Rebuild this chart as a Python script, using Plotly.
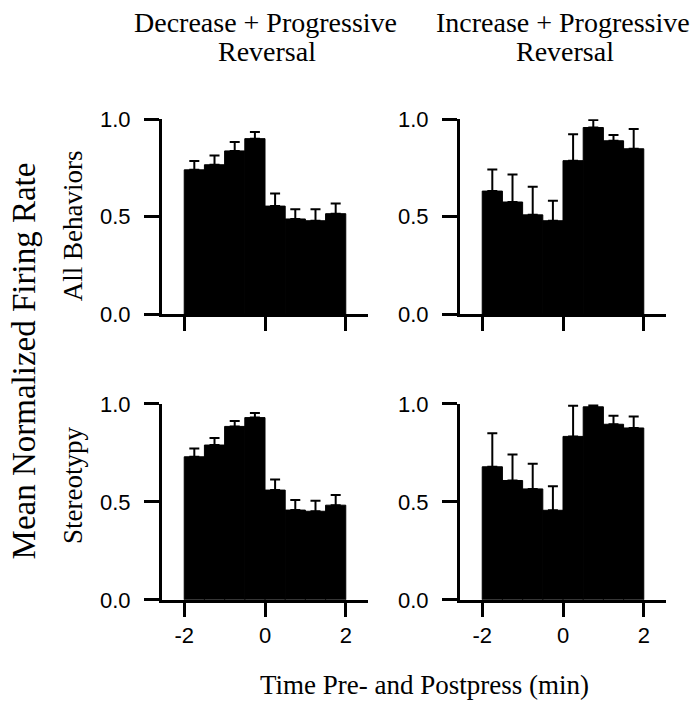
import plotly.graph_objects as go

# ---------------- data ----------------
time_bins = [-1.75, -1.25, -0.75, -0.25, 0.25, 0.75, 1.25, 1.75]
x_tick_vals = [-2, 0, 2]
x_tick_text = ["-2", "0", "2"]
y_tick_vals = [0.0, 0.5, 1.0]
y_tick_text = ["0.0", "0.5", "1.0"]

col_titles_line1 = ["Decrease + Progressive", "Increase + Progressive"]
col_titles_line2 = ["Reversal", "Reversal"]
row_titles = ["All Behaviors", "Stereotypy"]
y_title = "Mean Normalized Firing Rate"
x_title = "Time Pre- and Postpress (min)"

dec_all_mean = [0.740, 0.766, 0.837, 0.900, 0.554, 0.488, 0.479, 0.515]
dec_all_upper = [0.785, 0.813, 0.883, 0.934, 0.618, 0.538, 0.538, 0.567]
inc_all_mean = [0.631, 0.575, 0.509, 0.479, 0.787, 0.957, 0.889, 0.848]
inc_all_upper = [0.742, 0.716, 0.653, 0.582, 0.922, 0.995, 0.919, 0.949]
dec_ster_mean = [0.730, 0.790, 0.885, 0.930, 0.560, 0.458, 0.452, 0.483]
dec_ster_upper = [0.772, 0.826, 0.912, 0.954, 0.614, 0.509, 0.506, 0.535]
inc_ster_mean = [0.679, 0.609, 0.566, 0.457, 0.834, 0.985, 0.896, 0.877]
inc_ster_upper = [0.850, 0.742, 0.694, 0.579, 0.990, 0.992, 0.939, 0.936]

# ---------------- layout geometry ----------------
W, H = 692, 719
col_px = [(162, 368), (460, 666)]
row_px = [(111, 313), (406, 609)]


def px_x(p):
    return p / W


def px_y(p):
    return 1 - p / H


serif = "Liberation Serif, Times New Roman, serif"
sans = "Liberation Sans, Arial, sans-serif"

panels = [
    (0, 0, dec_all_mean, dec_all_upper),
    (0, 1, inc_all_mean, inc_all_upper),
    (1, 0, dec_ster_mean, dec_ster_upper),
    (1, 1, inc_ster_mean, inc_ster_upper),
]

fig = go.Figure()
layout = {}
for i, (r, c, mean, upper) in enumerate(panels):
    n = i + 1
    xa = "x" if n == 1 else f"x{n}"
    ya = "y" if n == 1 else f"y{n}"
    fig.add_trace(go.Bar(
        x=time_bins, y=mean, width=0.5,
        marker=dict(color="black", line=dict(width=1, color="black")),
        error_y=dict(type="data", symmetric=False,
                     array=[u - m for u, m in zip(upper, mean)],
                     arrayminus=[0] * len(mean),
                     color="black", thickness=2, width=5),
        xaxis=xa, yaxis=ya, showlegend=False,
    ))
    xkey = "xaxis" if n == 1 else f"xaxis{n}"
    ykey = "yaxis" if n == 1 else f"yaxis{n}"
    layout[xkey] = dict(
        domain=[px_x(col_px[c][0]), px_x(col_px[c][1])],
        anchor=ya, range=[-2.55, 2.55],
        tickvals=x_tick_vals, ticktext=x_tick_text,
        ticks="outside", ticklen=14, tickwidth=3, tickcolor="black",
        showline=True, linewidth=3, linecolor="black",
        showgrid=False, zeroline=False,
        showticklabels=(r == 1),
        tickfont=dict(family=sans, size=22, color="black"),
        fixedrange=True,
    )
    layout[ykey] = dict(
        domain=[px_y(row_px[r][1]), px_y(row_px[r][0])],
        anchor=xa, range=[0, 1.0],
        tickvals=y_tick_vals, ticktext=y_tick_text,
        ticks="outside", ticklen=15, tickwidth=3, tickcolor="black",
        showline=True, linewidth=3, linecolor="black",
        showgrid=False, zeroline=False,
        tickfont=dict(family=sans, size=22, color="black"),
        ticklabelstandoff=9,
        fixedrange=True,
    )

annotations = []
title_cx = [265, 563]
for c in range(2):
    annotations.append(dict(
        text=col_titles_line1[c], x=px_x(title_cx[c]), y=px_y(11),
        xref="paper", yref="paper", xanchor="center", yanchor="middle",
        showarrow=False, font=dict(family=serif, size=28, color="black")))
    annotations.append(dict(
        text=col_titles_line2[c], x=px_x(title_cx[c] + 2), y=px_y(41),
        xref="paper", yref="paper", xanchor="center", yanchor="middle",
        showarrow=False, font=dict(family=serif, size=28, color="black")))

row_cy = [222, 491]
for r in range(2):
    annotations.append(dict(
        text=row_titles[r], x=px_x(73), y=px_y(row_cy[r]),
        xref="paper", yref="paper", xanchor="center", yanchor="middle",
        textangle=-90, showarrow=False,
        font=dict(family=serif, size=27, color="black")))

annotations.append(dict(
    text=y_title, x=px_x(24), y=px_y(362),
    xref="paper", yref="paper", xanchor="center", yanchor="middle",
    textangle=-90, showarrow=False,
    font=dict(family=serif, size=33, color="black")))

annotations.append(dict(
    text=x_title, x=px_x(424), y=px_y(697),
    xref="paper", yref="paper", xanchor="center", yanchor="middle",
    showarrow=False, font=dict(family=serif, size=27, color="black")))

fig.update_layout(
    width=W, height=H,
    margin=dict(l=0, r=0, t=0, b=0),
    paper_bgcolor="white", plot_bgcolor="white",
    annotations=annotations,
    **layout,
)

fig.write_html("out.html", config={"displayModeBar": False},
               post_script="document.body.style.margin='0px';")
